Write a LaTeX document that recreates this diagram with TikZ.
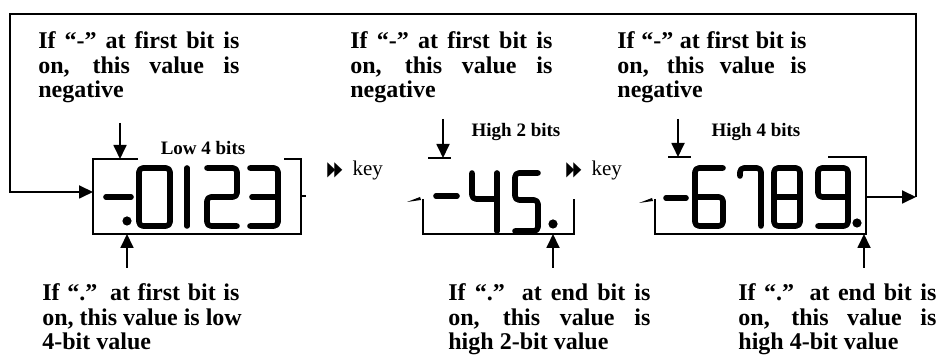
\documentclass[tikz,border=0pt]{standalone}
\usepackage{graphicx}
\usepackage{fontspec}
\setmainfont{Liberation Serif}
\newfontfamily\symfont{DejaVu Sans}
\usetikzlibrary{arrows.meta}

\newcommand{\spread}[2]{\hbox to #1{\spaceskip=0.25em plus 1fil\relax #2}}
\newcommand{\ffwd}{\scalebox{0.5}[0.95]{\symfont ▶\kern-0.1em▶}}

\begin{document}
\begin{tikzpicture}[
  x=0.5pt, y=-0.5pt,
  note/.style={font=\bfseries\fontsize{12}{12.25}\selectfont,
               align=left, inner sep=0pt, anchor=north west},
  tag/.style={font=\bfseries\fontsize{9.5}{10}\selectfont, inner sep=0pt, anchor=base},
  keylbl/.style={font=\fontsize{10.5}{11}\selectfont, inner sep=0pt, anchor=base west},
  frame/.style={line width=1pt},
  lcd/.style={line width=2.8pt, line cap=round, line join=round, rounded corners=2pt},
  arr/.style={-{Triangle[length=7pt,width=6.5pt]}, line width=0.9pt},
]

  \useasboundingbox (0,0) rectangle (937,356);

  % Notes above the displays

  \node[note] (negL) at (38,31.4)
    {\spread{100.5pt}{If “-” at first bit is}\\\spread{100.5pt}{on, this value is}\\negative};
  \node[note] (negM) at (350,31.4)
    {\spread{101pt}{If “-” at first bit is}\\\spread{101pt}{on, this value is}\\negative};
  \node[note] (negR) at (617,31.4)
    {\spread{94.5pt}{If “-” at first bit is}\\\spread{94.5pt}{on, this value is}\\negative};

  % Notes below the displays

  \node[note] (dotL) at (42,283.4)
    {\spread{98.5pt}{If “.” at first bit is}\\on, this value is low\\4-bit value};
  \node[note] (dotM) at (448,283.4)
    {\spread{101pt}{If “.” at end bit is}\\\spread{101pt}{on, this value is}\\high 2-bit value};
  \node[note] (dotR) at (738,283.4)
    {\spread{99pt}{If “.” at end bit is}\\\spread{99pt}{on, this value is}\\high 4-bit value};

  % Display captions and key presses

  \node[tag] (lowfour)  at (203,155) {Low 4 bits};
  \node[tag] (hightwo)  at (516,137) {High 2 bits};
  \node[tag] (highfour) at (756,137) {High 4 bits};

  \node[keylbl] (keyA) at (327,176) {\ffwd\hspace{5pt}key};
  \node[keylbl] (keyB) at (566,176) {\ffwd\hspace{5pt}key};

  % Display 1: -.0123

  \draw[frame] (138,159) -- (93,159) -- (93,234) -- (301,234) -- (301,159) -- (284,159);
  \draw[frame] (301,196) -- (306,196);

  \draw[lcd] (106,197) -- (131,197);
  \fill (127,221) circle[radius=2.3pt];
  \draw[lcd] (139,168) rectangle (170,226);
  \draw[lcd] (187,168) -- (187,226);
  \draw[lcd] (207,168) -- (237,168) -- (237,197) -- (207,197) -- (207,226) -- (237,226);
  \draw[lcd] (250,168) -- (278,168) -- (278,226) -- (250,226);
  \draw[lcd] (252,197) -- (278,197);

  % Display 2: -45.

  \draw[frame] (428,158) -- (451,158);
  \draw[frame] (423,199) -- (423,234) -- (574,234) -- (574,199);
  \fill (407,202) -- (420,197) -- (421,200) -- cycle;

  \draw[lcd] (436,196) -- (457,196);
  \draw[lcd] (472,173) -- (472,199) -- (497,199);
  \draw[lcd] (497,173) -- (497,231);
  \draw[lcd] (538,173) -- (515,173) -- (515,200) -- (538,200) -- (538,231) -- (515,231);
  \fill (553,224) circle[radius=2.3pt];

  % Display 3: -6789.

  \draw[frame] (668,157) -- (691,157);
  \draw[frame] (655,199) -- (655,234) -- (866,234) -- (866,157) -- (828,157);
  \fill (639,203) -- (652,198) -- (653,201) -- cycle;

  \draw[lcd] (666,198) -- (686,198);
  \draw[lcd] (723,168) -- (695,168) -- (695,226) -- (723,226) -- (723,197) -- (695,197);
  \draw[lcd] (740,176) -- (740,168) -- (761,168) -- (761,226);
  \draw[lcd] (774,168) rectangle (800,226);
  \draw[lcd] (774,197) -- (800,197);
  \draw[lcd] (848,197) -- (818,197) -- (818,168) -- (848,168) -- (848,226) -- (818,226);
  \fill (857,223) circle[radius=2.3pt];

  % Arrow ends

  \coordinate (negLa) at (120,123);
  \coordinate (negMa) at (443,119);
  \coordinate (negRa) at (678,119);
  \coordinate (topL)  at (120,159);
  \coordinate (topM)  at (443,158);
  \coordinate (topR)  at (678,157);

  \coordinate (dotLa) at (127,268);
  \coordinate (dotMa) at (553,268);
  \coordinate (dotRa) at (864,268);
  \coordinate (botL)  at (127,234);
  \coordinate (botM)  at (553,234);
  \coordinate (botR)  at (864,234);

  \coordinate (outR)  at (866,197);
  \coordinate (turn)  at (916,197);
  \coordinate (loopR) at (916,14);
  \coordinate (loopL) at (10,14);
  \coordinate (inL)   at (93,192);

  % Arrows

  \draw[arr] (negLa) -- (topL);
  \draw[arr] (negMa) -- (topM);
  \draw[arr] (negRa) -- (topR);

  \draw[arr] (dotLa) -- (botL);
  \draw[arr] (dotMa) -- (botM);
  \draw[arr] (dotRa) -- (botR);

  % Loop back from the last display to the first
  \draw[arr] (outR) -- (turn);
  \draw[arr] (turn) -- (loopR) -- (loopL) |- (inL);

\end{tikzpicture}
\end{document}
